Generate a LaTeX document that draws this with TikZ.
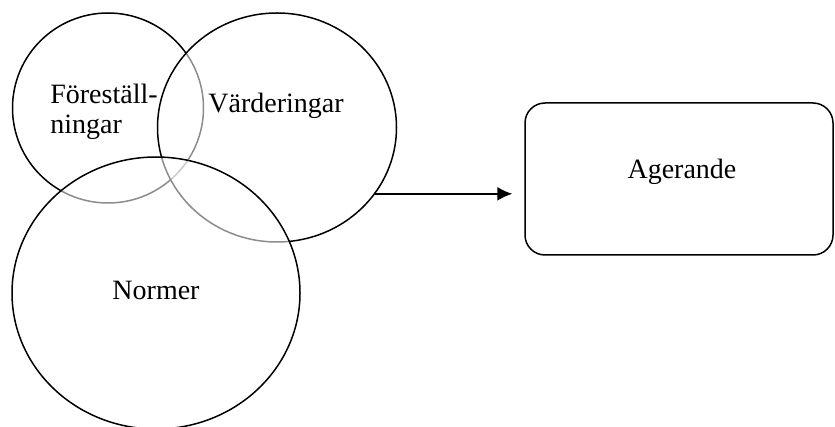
\documentclass[tikz,border=0pt]{standalone}
\usepackage{fontspec}
\setmainfont{Liberation Serif}
\usetikzlibrary{shapes.geometric,positioning,arrows.meta}

\begin{document}
\begin{tikzpicture}[x=0.5pt,y=-0.5pt,line width=0.75pt,
	set/.style={ellipse,draw,inner sep=0pt,fill=white,fill opacity=0.55,text opacity=1},
	txt/.style={font=\fontsize{14}{15}\selectfont}]
	\useasboundingbox (0,0) rectangle (835,427);
	\node[set,minimum width=95.5pt,minimum height=95pt] (fore) at (108,108) {};
	\node[set,minimum width=119.5pt,minimum height=114.5pt] (vard) at (277,127.5) {};
	\node[set,minimum width=144pt,minimum height=136pt] (norm) at (156,293) {};
	\node[txt,align=left] (fore_t) at (104,112) {Föreställ-\\ningar};
	\node[txt] (vard_t) at (276,106) {Värderingar};
	\node[txt] (norm_t) at (156,290) {Normer};
	\node[draw,rounded corners=10pt,minimum width=154pt,minimum height=76pt] (agr) at (679,179) {};
	\node[txt] (agr_t) at (682,172) {Agerande};
	\draw[-{Latex[length=7.5pt,width=7pt]},shorten >=6pt] (vard.-34) -- (vard.-34 -| agr.west);
\end{tikzpicture}
\end{document}
